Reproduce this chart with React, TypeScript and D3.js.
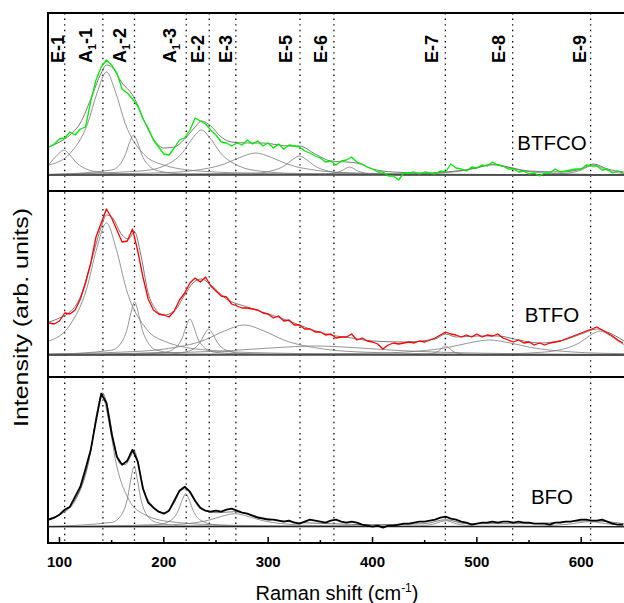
import React, { useEffect, useRef } from 'react';
import * as d3 from 'd3';

// Raman shift grid (cm-1) shared by the three measured spectra
const shifts = [90, 95, 100, 105, 110, 115, 120, 125, 130, 135,
  140, 145, 150, 155, 160, 165, 170, 175, 180, 185,
  190, 195, 200, 205, 210, 215, 220, 225, 230, 235,
  240, 245, 250, 255, 260, 265, 270, 275, 280, 285,
  290, 295, 300, 305, 310, 315, 320, 325, 330, 335,
  340, 345, 350, 355, 360, 365, 370, 375, 380, 385,
  390, 395, 400, 405, 410, 415, 420, 425, 430, 435,
  440, 445, 450, 455, 460, 465, 470, 475, 480, 485,
  490, 495, 500, 505, 510, 515, 520, 525, 530, 535,
  540, 545, 550, 555, 560, 565, 570, 575, 580, 585,
  590, 595, 600, 605, 610, 615, 620, 625, 630, 635, 640];

const btfco = [28, 31, 36, 37, 43, 40, 46, 48, 74, 95,
  108, 115, 110, 102, 86, 82, 76, 69, 56, 47,
  35, 28, 21, 20, 27, 35, 37, 45, 57, 54,
  51, 45, 40, 33, 32, 29, 32, 30, 35, 31,
  34, 29, 32, 27, 31, 26, 30, 29, 28, 24,
  22, 19, 17, 13, 14, 10, 14, 15, 18, 13,
  11, 8, 6, 3, 3, -1, -1, -5, 2, 2,
  3, 1, 3, 2, 1, 4, 3, 11, 7, 6,
  4, 8, 7, 10, 9, 13, 10, 9, 6, 6,
  3, 4, 1, 2, -1, 2, 2, 6, 3, 4,
  5, 6, 6, 10, 9, 9, 5, 6, 2, 4, 2];

const btfo = [32, 31, 34, 42, 41, 45, 56, 72, 92, 118,
  132, 146, 137, 125, 113, 114, 126, 104, 78, 56,
  45, 41, 40, 38, 44, 55, 62, 72, 77, 73,
  78, 69, 64, 59, 58, 51, 49, 47, 47, 46,
  45, 42, 41, 37, 39, 34, 35, 30, 30, 26,
  26, 23, 23, 20, 21, 17, 18, 18, 21, 15,
  17, 14, 13, 11, 6, 10, 12, 11, 12, 13,
  12, 14, 13, 15, 17, 20, 23, 21, 20, 18,
  20, 18, 21, 18, 20, 19, 21, 17, 15, 13,
  15, 12, 13, 10, 12, 10, 12, 13, 14, 16,
  18, 20, 22, 24, 26, 28, 25, 22, 19, 15, 12];

const bfo = [7, 9, 12, 17, 20, 30, 40, 58, 77, 106,
  133, 124, 93, 70, 62, 66, 77, 65, 38, 24,
  19, 15, 13, 16, 26, 36, 40, 35, 26, 19,
  16, 15, 16, 15, 17, 18, 16, 14, 13, 11,
  9, 8, 7, 7, 6, 5, 6, 4, 3, 5,
  7, 6, 5, 4, 6, 7, 5, 4, 5, 4,
  2, 1, 0, 1, -1, 1, 1, 2, 3, 3,
  4, 5, 5, 6, 7, 9, 10, 8, 7, 5,
  4, 2, 3, 4, 4, 5, 4, 5, 5, 4,
  5, 4, 4, 3, 3, 3, 2, 4, 4, 5,
  5, 6, 7, 7, 6, 6, 7, 5, 3, 2, 2];

// cumulative fits [shift, intensity]
const btfcoFit = [[90, 28], [100, 33], [110, 40], [120, 52], [130, 76], [140, 102], [145, 110], [150, 108],
  [160, 92], [170, 80], [175, 70], [180, 57], [190, 36], [200, 27], [210, 28], [220, 36], [230, 48],
  [236, 54], [245, 49], [255, 38], [265, 33], [280, 32], [295, 32], [310, 30], [320, 29], [330, 29],
  [345, 21], [360, 14], [375, 13], [385, 12], [400, 6], [420, 3], [450, 2], [480, 4], [500, 7],
  [515, 11], [530, 8], [550, 4], [580, 3], [600, 6], [612, 11], [625, 6], [641, 3]];

const btfoFit = [[90, 33], [100, 37], [110, 43], [120, 58], [130, 92], [140, 128], [145, 140], [150, 138],
  [160, 120], [166, 116], [172, 123], [178, 100], [185, 62], [192, 46], [200, 40], [210, 44], [220, 60],
  [228, 72], [236, 76], [245, 70], [260, 56], [280, 48], [300, 41], [320, 34], [340, 26], [360, 20],
  [380, 17], [400, 14], [430, 13], [460, 16], [470, 21], [480, 18], [500, 19], [520, 19], [540, 15],
  [560, 12], [580, 14], [600, 21], [615, 26], [625, 23], [641, 14]];

const bfoFit = [[90, 8], [100, 12], [110, 20], [120, 38], [130, 76], [136, 115], [141, 134], [146, 120],
  [152, 85], [158, 63], [163, 62], [168, 70], [171.5, 76], [175, 66], [180, 40], [190, 20], [200, 14],
  [210, 24], [216, 36], [221, 38], [226, 32], [235, 18], [250, 14], [268, 15], [290, 10], [320, 5],
  [360, 3], [400, 2], [450, 3], [470, 7], [490, 3], [550, 3], [608, 6], [641, 3]];

// fitted components [shift, intensity]
const btfcoPeaks = [
  [[90, 10.6], [98, 20], [104, 25], [110, 20], [116, 12.5], [128, 5], [140, 2.5], [164, 1], [220, 0.3], [641, 0]],
  [[90, 10], [110, 21.5], [127, 51.5], [136, 82], [145, 103], [154, 82], [163, 51.5], [181, 20.6], [199, 10.3], [235, 3.9], [300, 1.4], [400, 0.5], [641, 0.1]],
  [[90, 0.4], [150, 5], [160, 13.8], [163, 20], [167, 32], [171, 40], [175, 32], [179, 20], [187, 8], [195, 4], [220, 1], [641, 0]],
  [[90, 0.7], [180, 4.2], [200, 9], [218, 22.5], [227, 36], [236, 45], [245, 36], [254, 22.5], [272, 9], [290, 4.2], [330, 1.5], [641, 0.2]],
  [[90, 0.5], [200, 2.3], [228, 4.4], [258, 11], [273, 17.6], [288, 22], [303, 17.6], [318, 11], [348, 4.4], [378, 2.2], [450, 0.8], [641, 0.2]],
  [[90, 0.1], [290, 2], [302, 3.8], [316, 9.5], [323, 15.2], [330, 19], [337, 15.2], [344, 9.5], [358, 3.8], [372, 1.9], [420, 0.5], [641, 0]],
  [[90, 0], [350, 0.6], [362, 1.6], [370, 4], [378, 8], [386, 4], [394, 1.6], [410, 0.5], [641, 0]],
  [[90, 0], [440, 1], [465, 2], [490, 5], [502, 8], [515, 10], [528, 8], [540, 5], [565, 2], [590, 1], [641, 0.3]],
  [[90, 0], [560, 0.5], [576, 1], [588, 2], [600, 5], [606, 8], [612, 10], [618, 8], [624, 5], [636, 2], [641, 1.5]],
];

const btfoPeaks = [
  [[90, 14], [110, 30], [126, 66], [135.5, 105.6], [145, 132], [154.5, 105.6], [164, 66], [183, 26.4], [202, 13.2], [240, 5], [300, 2], [400, 0.7], [641, 0.2]],
  [[90, 0.4], [150, 4.8], [158, 10.6], [165, 26.5], [168.5, 42.4], [172, 53], [175.5, 42.4], [179, 26.5], [186, 10.6], [193, 4.8], [220, 1.1], [641, 0]],
  [[90, 0.1], [200, 2.6], [211, 7.2], [218, 18], [221.5, 28.8], [225, 36], [228.5, 28.8], [232, 18], [239, 7.2], [250, 2.6], [300, 0.3], [641, 0]],
  [[90, 0.1], [215, 2.2], [227, 5.2], [235, 13], [239, 20.8], [243, 26], [247, 20.8], [251, 13], [259, 5.2], [275, 1.5], [320, 0.3], [641, 0]],
  [[90, 1.2], [160, 2.9], [201, 6], [239, 15], [258, 24], [277, 30], [296, 24], [315, 15], [353, 6], [391, 2.9], [470, 1.1], [550, 0.6], [641, 0.4]],
  [[90, 0.8], [185, 1.8], [265, 4.5], [305, 7.2], [345, 9], [385, 7.2], [425, 4.5], [505, 1.8], [600, 0.8], [641, 0.7]],
  [[90, 0], [450, 0.8], [458, 1.8], [464, 4.5], [467, 7.2], [470, 9], [473, 7.2], [476, 4.5], [482, 1.8], [495, 0.5], [641, 0]],
  [[90, 0.1], [400, 1.7], [432, 3], [472, 7.5], [492, 12], [512, 15], [532, 12], [552, 7.5], [592, 3], [641, 1.3]],
  [[90, 0.1], [500, 0.7], [540, 1.5], [560, 2.6], [578, 4.8], [598, 12], [608, 19.2], [618, 24], [628, 19.2], [638, 12], [641, 10.5]],
];

const bfoPeaks = [
  [[90, 7.9], [102, 13], [115, 26], [128, 65], [134.5, 104], [141, 130], [147.5, 104], [154, 65], [167, 26], [180, 13], [206, 5], [260, 1.5], [350, 0.5], [641, 0.1]],
  [[90, 0.3], [150, 4.3], [159.5, 12], [165.5, 30], [168.5, 48], [171.5, 60], [174.5, 48], [177.5, 30], [183.5, 12], [193, 4.3], [215, 1.1], [641, 0]],
  [[90, 0.1], [195, 2.2], [207, 6.6], [214, 16.5], [217.5, 26.4], [221, 33], [224.5, 26.4], [228, 16.5], [235, 6.6], [250, 1.8], [300, 0.3], [641, 0]],
  [[90, 0.3], [190, 1.2], [218, 2.6], [243, 6.5], [255.5, 10.4], [268, 13], [280.5, 10.4], [293, 6.5], [318, 2.6], [350, 1], [450, 0.3], [641, 0.1]],
  [[90, 0], [440, 0.6], [450, 1.2], [460, 3], [465, 4.8], [470, 6], [475, 4.8], [480, 3], [490, 1.2], [500, 0.6], [641, 0]],
  [[90, 0], [520, 0.3], [550, 0.5], [568, 1], [588, 2.5], [608, 5], [628, 2.5], [641, 1.5]],
];

const modeNames = ['E-1', 'A1-1', 'A1-2', 'A1-3', 'E-2', 'E-3', 'E-5', 'E-6', 'E-7', 'E-8', 'E-9'];
const modeShifts = [105, 141.6, 171.9, 221.5, 243.5, 269, 330.5, 363, 469.8, 534.3, 609];
const labelShifts = [98, 125.4, 158, 206, 232.3, 259.4, 316.9, 350.4, 456.7, 520.9, 598.8];

const sampleNames = ['BTFCO', 'BTFO', 'BFO'];
const sampleLabelAt = [25, 33, 23];

const xTicks = [100, 200, 300, 400, 500, 600];
const xMinorTicks = [150, 250, 350, 450, 550];

const App = () => {
  const svgRef = useRef(null);

  useEffect(() => {
    const svg = d3.select(svgRef.current);
    svg.selectAll('*').remove();
    const font = 'Liberation Sans, Arial, sans-serif';
    const left = 48, right = 624, top = 13, bottom = 543;

    const x = d3.scaleLinear().domain([89, 641]).range([left, right]);

    const panels = [
      { data: btfco, fit: btfcoFit, peaks: btfcoPeaks, color: '#00ee00', w: 1.3,
        y: d3.scaleLinear().domain([-16, 162]).range([191, 13]) },
      { data: btfo, fit: btfoFit, peaks: btfoPeaks, color: '#ff0000', w: 1.3,
        y: d3.scaleLinear().domain([-22, 164]).range([377, 191]) },
      { data: bfo, fit: bfoFit, peaks: bfoPeaks, color: '#000000', w: 1.8,
        y: d3.scaleLinear().domain([-16.3, 149.7]).range([543, 377]) },
    ];

    const defs = svg.append('defs');

    // vertical dotted mode lines
    svg.append('g').selectAll('line').data(modeShifts).enter().append('line')
      .attr('x1', (d) => x(d)).attr('x2', (d) => x(d))
      .attr('y1', top).attr('y2', bottom)
      .attr('stroke', '#000').attr('stroke-width', 1.3)
      .attr('stroke-dasharray', '1.4,4.2');

    panels.forEach((p, i) => {
      const [y0, y1] = p.y.range();
      defs.append('clipPath').attr('id', `clip${i}`)
        .append('rect').attr('x', left).attr('y', y1).attr('width', right - left).attr('height', y0 - y1);
      const g = svg.append('g').attr('clip-path', `url(#clip${i})`);

      const smooth = d3.line().x((d) => x(d[0])).y((d) => p.y(d[1])).curve(d3.curveMonotoneX);

      g.selectAll('.peak').data(p.peaks).enter().append('path')
        .attr('class', 'peak')
        .attr('d', smooth)
        .attr('fill', 'none').attr('stroke', '#7a7a7a').attr('stroke-width', 0.8);

      g.append('line')
        .attr('x1', left).attr('x2', right)
        .attr('y1', p.y(0)).attr('y2', p.y(0))
        .attr('stroke', '#222').attr('stroke-width', 1.2);

      g.append('path').attr('d', smooth(p.fit))
        .attr('fill', 'none').attr('stroke', '#6a6a6a').attr('stroke-width', 0.9);

      const raw = d3.line().x((d, k) => x(shifts[k])).y((d) => p.y(d));
      g.append('path').attr('d', raw(p.data))
        .attr('fill', 'none').attr('stroke', p.color).attr('stroke-width', p.w)
        .attr('stroke-linejoin', 'round');

      svg.append('text')
        .attr('x', x(572)).attr('y', p.y(sampleLabelAt[i]))
        .attr('text-anchor', 'middle')
        .attr('font-family', font).attr('font-size', 20.5)
        .text(sampleNames[i]);
    });

    // frame
    const frame = svg.append('g').attr('stroke', '#000').attr('stroke-width', 2);
    frame.append('line').attr('x1', left).attr('x2', left).attr('y1', top - 1).attr('y2', bottom + 1);
    [top, 191, 377, bottom].forEach((yy) => {
      frame.append('line').attr('x1', left).attr('x2', right + 2).attr('y1', yy).attr('y2', yy);
    });

    // ticks
    svg.append('g').selectAll('line').data(xTicks).enter().append('line')
      .attr('x1', (d) => x(d)).attr('x2', (d) => x(d))
      .attr('y1', bottom).attr('y2', bottom - 6)
      .attr('stroke', '#000').attr('stroke-width', 1.5);
    svg.append('g').selectAll('line').data(xMinorTicks).enter().append('line')
      .attr('x1', (d) => x(d)).attr('x2', (d) => x(d))
      .attr('y1', bottom).attr('y2', bottom - 3)
      .attr('stroke', '#000').attr('stroke-width', 1.5);
    svg.append('g').selectAll('text').data(xTicks).enter().append('text')
      .attr('x', (d) => x(d)).attr('y', 566.5)
      .attr('text-anchor', 'middle')
      .attr('font-family', font).attr('font-weight', 'bold').attr('font-size', 15)
      .text((d) => d);

    // mode labels
    const fs = 18;
    modeNames.forEach((name, i) => {
      const t = svg.append('text')
        .attr('transform', `translate(${x(labelShifts[i]) + fs * 0.34},63) rotate(-90)`)
        .attr('font-family', font).attr('font-weight', 'bold').attr('font-size', fs);
      if (name[0] === 'A') {
        t.append('tspan').text('A');
        t.append('tspan').attr('font-size', fs * 0.6).attr('dy', 4).text(name[1]);
        t.append('tspan').attr('dy', -4).text(name.slice(2));
      } else {
        t.text(name);
      }
    });

    // axis titles
    svg.append('text')
      .attr('transform', `translate(28,317.5) rotate(-90)`)
      .attr('text-anchor', 'middle')
      .attr('font-family', font).attr('font-size', 20)
      .attr('textLength', 219).attr('lengthAdjust', 'spacingAndGlyphs')
      .text('Intensity (arb. units)');

    const xl = svg.append('text')
      .attr('x', 337).attr('y', 600)
      .attr('text-anchor', 'middle')
      .attr('font-family', font).attr('font-size', 20);
    xl.append('tspan').text('Raman shift (cm');
    xl.append('tspan').attr('font-size', 12).attr('dy', -8).text('-1');
    xl.append('tspan').attr('dy', 8).text(')');
  }, []);

  return <svg ref={svgRef} width={624} height={603}
    style={{ position: 'absolute', left: 0, top: 0, background: '#fff' }}></svg>;
};

export default App;
